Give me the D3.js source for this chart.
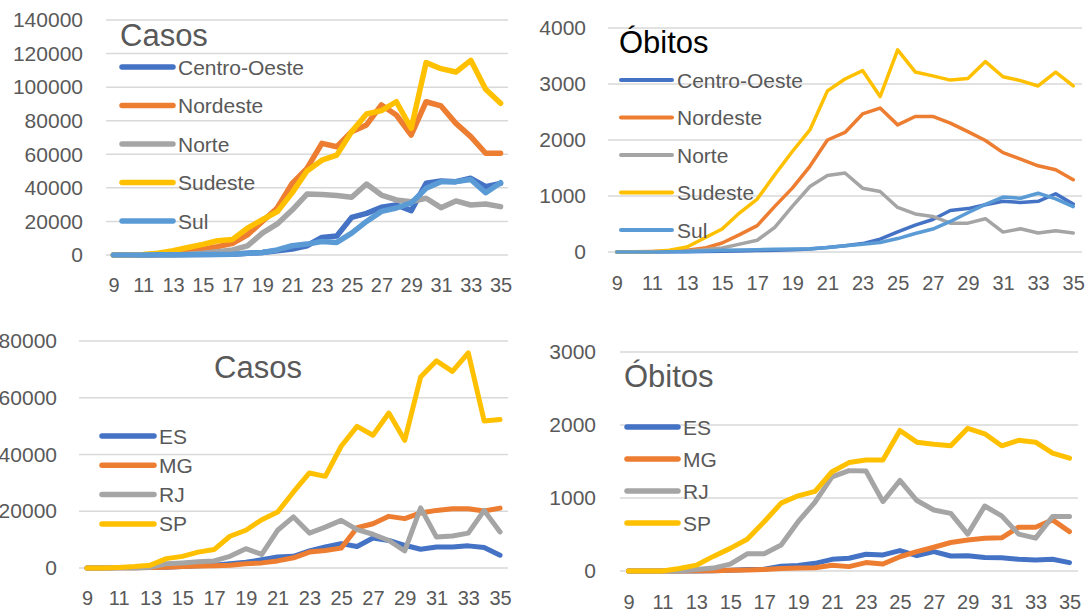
<!DOCTYPE html>
<html>
<head>
<meta charset="utf-8">
<script src="https://cdn.jsdelivr.net/npm/d3@7"></script>
<style>
  body { margin: 0; background: #fff; }
  svg text { font-family: "Liberation Sans", Arial, sans-serif; }
</style>
</head>
<body>
<svg id="chart" width="1091" height="613"></svg>
<script>
// epidemiological weeks 9..35
const weeks = d3.range(9, 36);
const weekLabels = d3.range(9, 36, 2);

// regiões - casos
const casosCentroOeste = [0, 0, 50, 100, 200, 250, 300, 400, 500, 1000, 1500, 2500, 3500, 5500, 10500, 11300, 22400, 24800, 28400, 29800, 26400, 42700, 44100, 43700, 45700, 40700, 42700];
const casosNordeste = [0, 0, 100, 300, 1000, 2000, 3500, 5000, 7000, 12000, 20000, 28000, 42700, 51600, 66500, 64500, 73500, 77500, 89400, 83400, 71500, 91300, 88800, 78400, 70500, 60600, 60600];
const casosNorte = [0, 0, 50, 100, 200, 400, 1000, 2000, 3000, 5400, 13000, 18500, 26800, 36300, 36100, 35500, 34400, 42300, 35700, 32800, 31800, 33800, 28200, 32200, 29800, 30400, 28800];
const casosSudeste = [0, 0, 300, 1000, 2600, 4500, 6300, 8500, 9300, 16000, 21000, 25800, 37000, 50000, 56500, 59500, 73500, 84000, 86000, 91300, 75500, 114600, 111000, 109000, 116000, 98700, 90400];
const casosSul = [0, 0, 50, 100, 150, 200, 250, 300, 500, 1000, 1500, 3000, 5500, 6500, 8000, 7500, 13000, 20000, 26000, 28000, 31000, 39700, 43700, 43700, 45000, 37100, 43100];

// regiões - óbitos
const obitosCentroOeste = [0, 0, 1, 3, 5, 10, 15, 20, 25, 30, 40, 55, 80, 110, 150, 230, 360, 480, 580, 740, 775, 845, 905, 885, 905, 1040, 855];
const obitosNordeste = [0, 5, 10, 20, 30, 70, 160, 310, 470, 815, 1140, 1530, 2000, 2135, 2465, 2570, 2270, 2420, 2420, 2300, 2150, 1990, 1775, 1660, 1540, 1470, 1290];
const obitosNorte = [0, 0, 5, 10, 20, 40, 70, 140, 210, 440, 815, 1170, 1365, 1410, 1140, 1080, 795, 680, 635, 515, 515, 595, 355, 415, 340, 380, 340];
const obitosSudeste = [0, 0, 5, 30, 90, 250, 410, 700, 945, 1380, 1795, 2180, 2877, 3090, 3240, 2775, 3610, 3215, 3145, 3070, 3100, 3400, 3130, 3060, 2965, 3210, 2965];
const obitosSul = [0, 0, 2, 5, 10, 20, 30, 35, 40, 50, 55, 60, 80, 110, 140, 170, 240, 330, 410, 545, 700, 850, 980, 960, 1050, 950, 810];

// estados do sudeste - casos
const casosES = [0, 0, 50, 100, 200, 300, 500, 800, 1000, 1500, 2000, 2900, 3900, 4100, 6000, 7400, 8600, 7600, 10600, 9700, 8000, 6600, 7400, 7400, 7800, 7200, 4500];
const casosMG = [0, 0, 50, 100, 200, 300, 500, 700, 800, 1000, 1500, 1800, 2500, 3600, 5600, 6200, 7000, 14200, 15600, 18200, 17400, 19400, 20300, 20900, 20900, 20100, 21100];
const casosRJ = [0, 0, 50, 100, 300, 1500, 1800, 2200, 2500, 4100, 6800, 4800, 13300, 18000, 12300, 14400, 16800, 13500, 11900, 9700, 6000, 21200, 10900, 11300, 12300, 20300, 12700];
const casosSP = [0, 0, 200, 500, 1000, 3300, 4100, 5600, 6500, 11200, 13300, 17000, 19700, 26800, 33500, 32300, 42900, 49900, 46800, 54600, 45000, 67300, 73000, 69300, 75800, 51800, 52300];

// estados do sudeste - óbitos
const obitosES = [0, 0, 0, 0, 0, 5, 10, 20, 25, 65, 75, 105, 160, 175, 230, 220, 280, 210, 265, 205, 210, 185, 180, 160, 150, 160, 115];
const obitosMG = [0, 0, 0, 0, 2, 5, 10, 15, 20, 35, 40, 45, 80, 60, 115, 95, 195, 265, 325, 390, 425, 450, 455, 600, 600, 700, 540];
const obitosRJ = [0, 0, 0, 0, 20, 40, 95, 235, 235, 355, 675, 945, 1290, 1375, 1370, 950, 1240, 965, 835, 790, 505, 890, 755, 505, 450, 745, 745];
const obitosSP = [0, 0, 0, 35, 80, 200, 310, 435, 675, 930, 1030, 1090, 1360, 1485, 1520, 1520, 1925, 1765, 1735, 1715, 1955, 1880, 1715, 1790, 1765, 1615, 1545];

const regionNames = ["Centro-Oeste", "Nordeste", "Norte", "Sudeste", "Sul"];
const stateNames = ["ES", "MG", "RJ", "SP"];

const casosTicks = d3.range(0, 140001, 20000);
const obitosTicks = d3.range(0, 4001, 1000);
const casosSPTicks = d3.range(0, 80001, 20000);
const obitosSPTicks = d3.range(0, 3001, 1000);

const COLORS = ["#4472C4", "#ED7D31", "#A5A5A5", "#FFC000", "#5B9BD5"];
const TEXT_GRAY = "#595959";
const GRID_GRAY = "#d9d9d9";

const svg = d3.select("#chart");

function drawPanel(cfg) {
  const g = svg.append("g");

  const x = d3.scalePoint().domain(weeks).range([cfg.left, cfg.right]).padding(0.5);
  const y = d3.scaleLinear()
    .domain([0, d3.max(cfg.ticks)])
    .range([cfg.bottom, cfg.top]);

  // gridlines
  g.selectAll("line.grid")
    .data(cfg.ticks)
    .join("line")
    .attr("class", "grid")
    .attr("x1", cfg.left)
    .attr("x2", cfg.right)
    .attr("y1", (d) => y(d))
    .attr("y2", (d) => y(d))
    .attr("stroke", GRID_GRAY)
    .attr("stroke-width", 1.5);

  // y labels
  const yAxis = g.append("g")
    .attr("transform", `translate(${cfg.labelX},0)`)
    .call(d3.axisLeft(y).tickValues(cfg.ticks).tickSize(0).tickPadding(0).tickFormat(d3.format("d")));
  yAxis.select(".domain").remove();
  yAxis.selectAll("text")
    .attr("fill", TEXT_GRAY)
    .style("font-size", "21px")
    .style("font-family", "Liberation Sans, Arial, sans-serif");

  // x labels
  const xAxis = g.append("g")
    .attr("transform", `translate(0,${cfg.xLabelY})`)
    .call(d3.axisBottom(x).tickValues(weekLabels).tickSize(0).tickPadding(0));
  xAxis.select(".domain").remove();
  xAxis.selectAll("text")
    .attr("fill", TEXT_GRAY)
    .attr("dy", "0.35em")
    .attr("y", 0)
    .style("font-size", "20px")
    .style("font-family", "Liberation Sans, Arial, sans-serif");

  const line = d3.line()
    .x((d, i) => x(weeks[i]))
    .y((d) => y(d));

  g.selectAll("path.series")
    .data(cfg.series)
    .join("path")
    .attr("class", "series")
    .attr("d", (s) => line(s))
    .attr("fill", "none")
    .attr("stroke", (s, i) => COLORS[i])
    .attr("stroke-width", cfg.lineWidth)
    .attr("stroke-linejoin", "round")
    .attr("stroke-linecap", "round");

  // title
  g.append("text")
    .attr("x", cfg.titleX)
    .attr("y", cfg.titleY)
    .attr("text-anchor", cfg.titleAnchor)
    .attr("dominant-baseline", "central")
    .attr("fill", cfg.titleColor)
    .style("font-size", "31px")
    .text(cfg.title);

  // legend
  const legend = g.selectAll("g.legend")
    .data(cfg.names)
    .join("g")
    .attr("class", "legend")
    .attr("transform", (d, i) => `translate(${cfg.legendX},${cfg.legendY + i * cfg.legendStep})`);

  legend.append("line")
    .attr("x1", 0)
    .attr("x2", cfg.legendLine)
    .attr("stroke", (d, i) => COLORS[i])
    .attr("stroke-width", cfg.legendWidth)
    .attr("stroke-linecap", "round");

  legend.append("text")
    .attr("x", cfg.legendLine + 5)
    .attr("dominant-baseline", "central")
    .attr("fill", TEXT_GRAY)
    .style("font-size", "21px")
    .text((d) => d);
}

drawPanel({
  series: [casosCentroOeste, casosNordeste, casosNorte, casosSudeste, casosSul],
  names: regionNames,
  ticks: casosTicks,
  left: 106, right: 508, top: 20, bottom: 255,
  labelX: 83, xLabelY: 285,
  lineWidth: 5.5,
  title: "Casos", titleX: 120, titleY: 35, titleAnchor: "start", titleColor: TEXT_GRAY,
  legendX: 122, legendY: 67, legendStep: 38.5, legendLine: 51, legendWidth: 5.5,
});

drawPanel({
  series: [obitosCentroOeste, obitosNordeste, obitosNorte, obitosSudeste, obitosSul],
  names: regionNames,
  ticks: obitosTicks,
  left: 608, right: 1082, top: 28, bottom: 252,
  labelX: 586, xLabelY: 283,
  lineWidth: 3.5,
  title: "Óbitos", titleX: 619, titleY: 42, titleAnchor: "start", titleColor: "#000",
  legendX: 621, legendY: 80, legendStep: 37.5, legendLine: 51, legendWidth: 4,
});

drawPanel({
  series: [casosES, casosMG, casosRJ, casosSP],
  names: stateNames,
  ticks: casosSPTicks,
  left: 79, right: 508, top: 341, bottom: 568,
  labelX: 57, xLabelY: 598,
  lineWidth: 5,
  title: "Casos", titleX: 258, titleY: 367, titleAnchor: "middle", titleColor: TEXT_GRAY,
  legendX: 102, legendY: 436, legendStep: 29.3, legendLine: 52, legendWidth: 5.5,
});

drawPanel({
  series: [obitosES, obitosMG, obitosRJ, obitosSP],
  names: stateNames,
  ticks: obitosSPTicks,
  left: 620, right: 1078, top: 352, bottom: 571,
  labelX: 596, xLabelY: 602,
  lineWidth: 5,
  title: "Óbitos", titleX: 624, titleY: 376, titleAnchor: "start", titleColor: TEXT_GRAY,
  legendX: 627, legendY: 427, legendStep: 32, legendLine: 51, legendWidth: 5.5,
});
</script>
</body>
</html>
